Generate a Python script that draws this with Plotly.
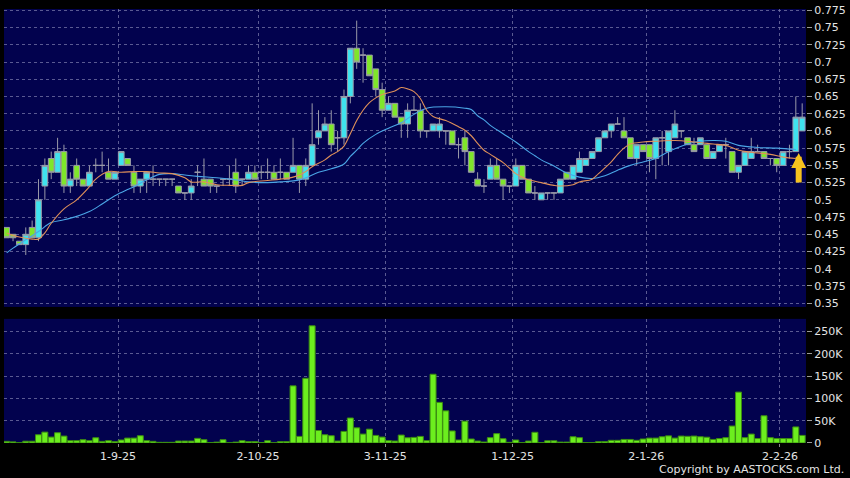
import plotly.graph_objects as go

# ---------------- data (bar index 0..125) ----------------
bar_index = list(range(126))

opens = [0.46, 0.45, 0.44, 0.435, 0.46, 0.445, 0.52, 0.56, 0.54, 0.57,
         0.52, 0.55, 0.53, 0.52, 0.55, 0.55, 0.54, 0.53, 0.55, 0.56,
         0.54, 0.52, 0.53, 0.53, 0.53, 0.53, 0.53, 0.52, 0.51, 0.51,
         0.54, 0.53, 0.53, 0.52, 0.53, 0.53, 0.54, 0.53, 0.53, 0.54,
         0.54, 0.54, 0.54, 0.54, 0.54, 0.54, 0.55, 0.53, 0.55, 0.59,
         0.60, 0.61, 0.59, 0.59, 0.65, 0.72, 0.71, 0.71, 0.69, 0.66,
         0.63, 0.64, 0.62, 0.61, 0.63, 0.63, 0.60, 0.60, 0.60, 0.60,
         0.60, 0.58, 0.59, 0.57, 0.53, 0.52, 0.53, 0.55, 0.53, 0.52,
         0.52, 0.55, 0.53, 0.51, 0.50, 0.51, 0.51, 0.51, 0.54, 0.53,
         0.54, 0.55, 0.56, 0.57, 0.59, 0.60, 0.61, 0.60, 0.59, 0.56,
         0.58, 0.58, 0.56, 0.59, 0.57, 0.59, 0.60, 0.59, 0.58, 0.58,
         0.58, 0.56, 0.57, 0.58, 0.57, 0.54, 0.55, 0.56, 0.57, 0.57,
         0.56, 0.56, 0.55, 0.57, 0.57, 0.60]
highs = [0.46, 0.45, 0.44, 0.46, 0.47, 0.53, 0.56, 0.57, 0.59, 0.58,
         0.54, 0.56, 0.53, 0.55, 0.56, 0.57, 0.56, 0.54, 0.57, 0.56,
         0.55, 0.53, 0.54, 0.55, 0.53, 0.53, 0.53, 0.52, 0.51, 0.53,
         0.55, 0.56, 0.53, 0.52, 0.53, 0.55, 0.56, 0.53, 0.55, 0.55,
         0.55, 0.56, 0.55, 0.56, 0.54, 0.59, 0.55, 0.56, 0.64, 0.63,
         0.62, 0.63, 0.60, 0.66, 0.72, 0.76, 0.72, 0.71, 0.69, 0.67,
         0.65, 0.64, 0.62, 0.64, 0.65, 0.64, 0.60, 0.61, 0.62, 0.60,
         0.60, 0.59, 0.60, 0.57, 0.54, 0.53, 0.56, 0.56, 0.53, 0.52,
         0.56, 0.55, 0.53, 0.52, 0.51, 0.51, 0.51, 0.53, 0.54, 0.55,
         0.57, 0.56, 0.57, 0.59, 0.60, 0.61, 0.62, 0.62, 0.59, 0.58,
         0.58, 0.58, 0.59, 0.60, 0.60, 0.63, 0.60, 0.59, 0.59, 0.59,
         0.58, 0.57, 0.58, 0.59, 0.57, 0.55, 0.57, 0.59, 0.58, 0.57,
         0.56, 0.56, 0.57, 0.58, 0.65, 0.64]
lows = [0.445, 0.44, 0.435, 0.42, 0.445, 0.44, 0.50, 0.53, 0.54, 0.51,
        0.51, 0.52, 0.52, 0.52, 0.54, 0.54, 0.53, 0.53, 0.55, 0.55,
        0.51, 0.51, 0.51, 0.52, 0.52, 0.52, 0.52, 0.51, 0.50, 0.50,
        0.52, 0.52, 0.51, 0.51, 0.52, 0.52, 0.51, 0.52, 0.53, 0.53,
        0.53, 0.53, 0.53, 0.53, 0.53, 0.54, 0.51, 0.52, 0.55, 0.58,
        0.60, 0.57, 0.57, 0.58, 0.64, 0.69, 0.67, 0.68, 0.65, 0.62,
        0.63, 0.62, 0.59, 0.59, 0.63, 0.59, 0.59, 0.60, 0.59, 0.58,
        0.58, 0.56, 0.55, 0.54, 0.52, 0.51, 0.53, 0.53, 0.50, 0.51,
        0.52, 0.53, 0.51, 0.50, 0.50, 0.50, 0.50, 0.51, 0.53, 0.53,
        0.54, 0.55, 0.56, 0.57, 0.59, 0.59, 0.61, 0.59, 0.56, 0.55,
        0.57, 0.54, 0.53, 0.55, 0.55, 0.59, 0.59, 0.58, 0.57, 0.58,
        0.56, 0.56, 0.57, 0.56, 0.54, 0.53, 0.55, 0.56, 0.57, 0.56,
        0.55, 0.54, 0.55, 0.56, 0.57, 0.60]
closes = [0.445, 0.445, 0.435, 0.45, 0.445, 0.50, 0.55, 0.54, 0.57, 0.52,
          0.53, 0.53, 0.52, 0.54, 0.55, 0.55, 0.53, 0.54, 0.57, 0.55,
          0.52, 0.53, 0.54, 0.53, 0.53, 0.53, 0.53, 0.51, 0.51, 0.52,
          0.54, 0.52, 0.52, 0.52, 0.53, 0.53, 0.52, 0.53, 0.54, 0.53,
          0.54, 0.54, 0.53, 0.54, 0.53, 0.55, 0.53, 0.55, 0.58, 0.60,
          0.61, 0.58, 0.59, 0.65, 0.72, 0.70, 0.71, 0.68, 0.66, 0.63,
          0.64, 0.62, 0.61, 0.63, 0.63, 0.60, 0.60, 0.61, 0.61, 0.60,
          0.58, 0.58, 0.57, 0.54, 0.52, 0.52, 0.55, 0.53, 0.52, 0.52,
          0.55, 0.53, 0.51, 0.51, 0.51, 0.51, 0.51, 0.53, 0.53, 0.55,
          0.56, 0.56, 0.57, 0.59, 0.60, 0.61, 0.61, 0.59, 0.56, 0.58,
          0.57, 0.56, 0.59, 0.59, 0.60, 0.61, 0.60, 0.58, 0.57, 0.59,
          0.56, 0.57, 0.58, 0.58, 0.54, 0.55, 0.57, 0.57, 0.57, 0.56,
          0.56, 0.55, 0.57, 0.57, 0.62, 0.62]
volumes_k = [3.7, 2.5, 0.5, 4, 4, 18.5, 24.4, 13.3, 23, 15.5,
             5.2, 5.2, 7.4, 5.2, 11.8, 3.7, 5.2, 3, 6.7, 11,
             11, 16.3, 5.2, 3.7, 1.5, 1.5, 1.5, 4.4, 4.4, 4.4,
             10.4, 7.4, 1, 2, 7.4, 0.5, 2, 5.2, 3, 3,
             1, 5.2, 0.5, 3, 3, 128, 14.8, 145, 262.5, 28,
             18.5, 16.3, 4.4, 26, 56, 34, 20, 31, 17, 13.3,
             5.2, 4.4, 17.8, 11.8, 12.6, 14.8, 5.2, 154, 91, 72,
             27, 6.7, 49, 9, 4.4, 2.2, 12, 21, 9.6, 1.5,
             6.7, 0.7, 4.4, 24, 0.7, 5, 5, 2, 2, 14,
             12, 0.7, 0.7, 3, 3, 6, 6, 8, 8, 6,
             9, 11, 11, 14, 16, 11, 15.5, 15, 15.5, 14,
             13, 8, 10, 12, 38, 114, 12, 20, 10, 61,
             12, 10, 10, 10, 36, 17]

# moving-average lines
ma_short_idx = [0, 2, 4, 5, 6, 7, 9, 11, 13, 14, 16, 18, 20, 22, 24, 26, 28, 29, 31, 33,
                35, 37, 38, 41, 43, 45, 46, 47, 48, 50, 51, 52, 53, 54, 55, 56, 57, 58, 59, 61,
                62, 63, 64, 65, 66, 67, 69, 71, 72, 73, 74, 75, 76, 78, 79, 80, 81, 82, 84, 86,
                87, 89, 90, 92, 93, 95, 96, 97, 98, 100, 102, 105, 108, 111, 113, 115, 117, 120, 122, 124]
ma_short_val = [0.452, 0.446, 0.443, 0.443, 0.452, 0.466, 0.487, 0.500, 0.519, 0.530,
                0.541, 0.540, 0.541, 0.541, 0.539, 0.538, 0.532, 0.526, 0.526, 0.522,
                0.521, 0.521, 0.525, 0.528, 0.530, 0.533, 0.536, 0.541, 0.548, 0.558,
                0.565, 0.570, 0.578, 0.596, 0.615, 0.630, 0.641, 0.648, 0.653, 0.658,
                0.663, 0.661, 0.657, 0.647, 0.630, 0.621, 0.615, 0.606, 0.601, 0.593,
                0.582, 0.572, 0.566, 0.554, 0.546, 0.538, 0.533, 0.529, 0.525, 0.521,
                0.520, 0.522, 0.526, 0.530, 0.538, 0.555, 0.566, 0.575, 0.581, 0.584,
                0.585, 0.586, 0.584, 0.581, 0.579, 0.572, 0.569, 0.566, 0.562, 0.560]
ma_long_idx = [0, 1, 3, 5, 7, 9, 11, 13, 15, 17, 19, 20, 22, 24, 26, 28, 30, 33, 36, 38,
               41, 43, 46, 47, 49, 51, 53, 54, 55, 56, 58, 60, 62, 64, 66, 69, 72, 73, 74, 75,
               76, 78, 80, 82, 83, 84, 86, 88, 90, 92, 94, 96, 98, 100, 102, 103, 105, 107, 109, 111,
               113, 115, 118, 121, 124]
ma_long_val = [0.423, 0.430, 0.442, 0.454, 0.467, 0.471, 0.476, 0.483, 0.494, 0.506,
               0.515, 0.519, 0.529, 0.537, 0.538, 0.536, 0.534, 0.532, 0.529, 0.526,
               0.525, 0.526, 0.529, 0.532, 0.540, 0.545, 0.552, 0.563, 0.572, 0.582,
               0.595, 0.604, 0.612, 0.624, 0.633, 0.635, 0.633, 0.631, 0.622, 0.616,
               0.608, 0.596, 0.584, 0.570, 0.564, 0.558, 0.549, 0.539, 0.533, 0.531,
               0.535, 0.543, 0.550, 0.555, 0.560, 0.565, 0.574, 0.581, 0.585, 0.586,
               0.585, 0.579, 0.576, 0.575, 0.573]

date_tick_pos = [17.5, 39.5, 59.5, 79.5, 100.5, 121.5]
date_tick_text = ["1-9-25", "2-10-25", "3-11-25", "1-12-25", "2-1-26", "2-2-26"]
price_tick_vals = [0.35, 0.375, 0.4, 0.425, 0.45, 0.475, 0.5, 0.525, 0.55, 0.575,
                   0.6, 0.625, 0.65, 0.675, 0.7, 0.725, 0.75, 0.775]
price_tick_text = ["0.35", "0.375", "0.4", "0.425", "0.45", "0.475", "0.5", "0.525", "0.55",
                   "0.575", "0.6", "0.625", "0.65", "0.675", "0.7", "0.725", "0.75", "0.775"]
vol_tick_vals = [0, 50000, 100000, 150000, 200000, 250000]
vol_tick_text = ["0", "50K", "100K", "150K", "200K", "250K"]

# ---------------- style ----------------
NAVY = "#02024E"
GRID = "rgba(120,120,170,0.75)"
TXT = "#E4E4E4"
CYAN = "#3FE2EE"
GREEN = "#7FE62A"
VGREEN = "#6CEE1E"
WICK = "#9A9AA8"
FONT = "DejaVu Sans"

fig = go.Figure()

fig.add_trace(go.Candlestick(
    x=bar_index, open=opens, high=highs, low=lows, close=closes,
    increasing=dict(fillcolor=CYAN, line=dict(color=WICK, width=1)),
    decreasing=dict(fillcolor=GREEN, line=dict(color=WICK, width=1)),
    whiskerwidth=0, xaxis="x", yaxis="y", showlegend=False, hoverinfo="skip",
))
fig.add_trace(go.Scatter(
    x=ma_long_idx, y=ma_long_val, mode="lines", line=dict(color="#4BA6E6", width=1.1),
    xaxis="x", yaxis="y", showlegend=False, hoverinfo="skip", line_shape="spline",
))
fig.add_trace(go.Scatter(
    x=ma_short_idx, y=ma_short_val, mode="lines", line=dict(color="#E0915A", width=1.1),
    xaxis="x", yaxis="y", showlegend=False, hoverinfo="skip", line_shape="spline",
))
fig.add_trace(go.Bar(
    x=bar_index, y=[v * 1000 for v in volumes_k],
    marker=dict(color=VGREEN, line=dict(color="#3C8C12", width=1)),
    xaxis="x2", yaxis="y2", showlegend=False, hoverinfo="skip",
))

xr = [-0.42, 125.6]
common_x = dict(
    range=xr, showgrid=True, gridcolor=GRID, griddash="3px,3px", gridwidth=1,
    tickmode="array", tickvals=date_tick_pos, ticktext=date_tick_text,
    zeroline=False, showline=False, fixedrange=True,
)

fig.update_layout(
    width=850, height=478,
    margin=dict(l=4, r=42, t=6, b=35),
    paper_bgcolor="#000000", plot_bgcolor=NAVY,
    boxgap=0.0, boxgroupgap=0.1,
    bargap=0.06,
    font=dict(family=FONT, size=11, color=TXT),
    xaxis=dict(common_x, domain=[0, 1], anchor="y", showticklabels=False,
               rangeslider=dict(visible=False), ticks=""),
    xaxis2=dict(common_x, domain=[0, 1], anchor="y2", matches="x", showticklabels=True,
                ticks="outside", ticklen=3, tickcolor="#888888",
                tickfont=dict(family=FONT, size=11, color=TXT)),
    yaxis=dict(domain=[0.3135, 1.0], range=[0.3446, 0.7769], side="right",
               tickmode="array", tickvals=price_tick_vals, ticktext=price_tick_text,
               showgrid=True, gridcolor=GRID, griddash="3px,3px", gridwidth=1,
               ticks="outside", ticklen=5, tickcolor="#9A9A9A",
               tickfont=dict(family=FONT, size=11, color=TXT),
               zeroline=False, showline=False, fixedrange=True),
    yaxis2=dict(domain=[0.0, 0.286], range=[0, 278000], side="right",
                tickmode="array", tickvals=vol_tick_vals, ticktext=vol_tick_text,
                showgrid=True, gridcolor=GRID, griddash="3px,3px", gridwidth=1,
                ticks="outside", ticklen=5, tickcolor="#9A9A9A",
                tickfont=dict(family=FONT, size=11, color=TXT),
                zeroline=False, showline=False, fixedrange=True),
    annotations=[
        dict(text="Copyright by AASTOCKS.com Ltd.", xref="paper", yref="paper",
             x=1.0498, y=-0.062, xanchor="right", yanchor="middle", showarrow=False,
             font=dict(family=FONT, size=11, color=TXT)),
        dict(x=124.45, y=0.568, xref="x", yref="y", text="", showarrow=True,
             ax=0, ay=31, arrowhead=2, arrowsize=0.5, arrowwidth=6,
             arrowcolor="#F6C21E"),
    ],
)

fig.write_html(
    "out.html",
    config={"displayModeBar": False, "staticPlot": True},
    post_script="document.body.style.margin='0';document.body.style.padding='0';"
                "document.body.style.background='#000';",
)
